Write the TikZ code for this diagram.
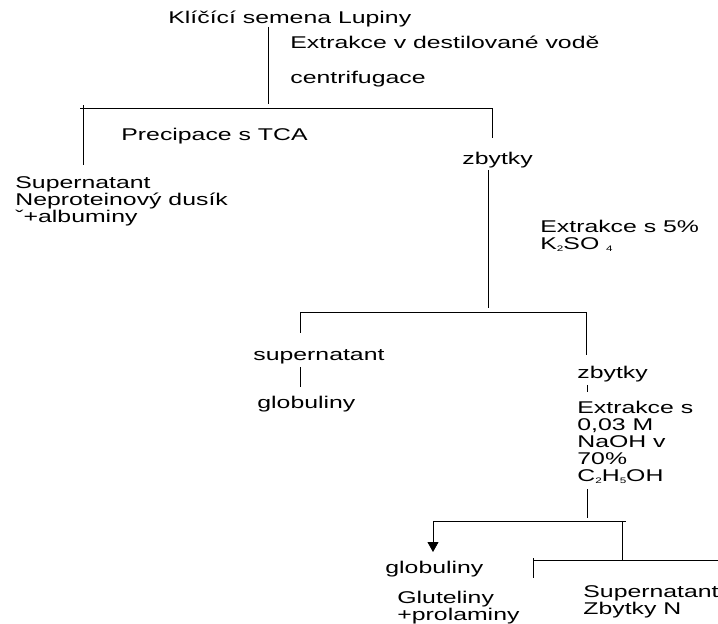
\documentclass[tikz,border=0pt]{standalone}
\usepackage{fontspec}
\setmainfont{Liberation Sans}[FakeStretch=1.46]
\usetikzlibrary{arrows.meta}
\newcommand{\lsub}[1]{\raisebox{-2pt}{\fontsize{8}{8}\selectfont #1}}

\begin{document}
\begin{tikzpicture}[x=1pt, y=-1pt, line width=0.8pt,
    lbl/.style={anchor=base west, inner sep=0pt, align=left, font=\fontsize{17}{16.8}\selectfont}]
    \useasboundingbox (0,0) rectangle (718,624);
    \node[lbl] (seed) at (168,23) {Klíčící semena Lupiny};
    \node[lbl] (extr1) at (290,48) {Extrakce v destilované vodě};
    \node[lbl] (cent) at (290,83) {centrifugace};
    \node[lbl] (tca) at (121,140) {Precipace s TCA};
    \node[lbl] (sup1) at (15,222) {Supernatant\\Neproteinový dusík\\ˇ+albuminy};
    \node[lbl] (zby1) at (462,164) {zbytky};
    \node[lbl] (extr2) at (540,249) {Extrakce s 5\%\\K\lsub{2}SO \lsub{4}};
    \node[lbl] (sup2) at (253,360) {supernatant};
    \node[lbl] (glob1) at (257,408) {globuliny};
    \node[lbl] (zby2) at (577,378) {zbytky};
    \node[lbl] (extr3) at (577,481) {Extrakce s\\0,03 M\\NaOH v\\70\%\\C\lsub{2}H\lsub{5}OH};
    \node[lbl] (glob2) at (385,573) {globuliny};
    \node[lbl] (glut) at (397,620) {Gluteliny\\+prolaminy};
    \node[lbl] (sup3) at (583,614) {Supernatant\\Zbytky N};

    \coordinate (j0) at (268,104);
    \coordinate (b1l) at (80,108);
    \coordinate (b1r) at (492,108);
    \coordinate (t1) at (83,105);
    \coordinate (e1) at (83,165);
    \coordinate (e2) at (492,138);
    \coordinate (j2) at (488,308);
    \coordinate (b2l) at (300,312);
    \coordinate (b2r) at (586,312);
    \coordinate (e3) at (300,333);
    \coordinate (e4) at (300,387);
    \coordinate (e5) at (586,355);
    \coordinate (e6) at (587,392);
    \coordinate (j3) at (587,518);
    \coordinate (b3l) at (433,521);
    \coordinate (b3r) at (626,521);
    \coordinate (e7) at (433,552);
    \coordinate (b4t) at (622,521);
    \coordinate (b4m) at (622,560);
    \coordinate (b4l) at (533,560);
    \coordinate (b4r) at (718,560);
    \coordinate (t8) at (533,558);
    \coordinate (e8) at (533,578);

    \draw (seed.south -| j0) -- (j0);
    \draw (b1l) -- (b1r);
    \draw (t1) -- (e1);
    \draw (b1r) -- (e2);
    \draw[shorten <=2pt] (zby1.south -| j2) -- (j2);
    \draw (b2l) -- (b2r);
    \draw (b2l) -- (e3);
    \draw[shorten <=3pt] (sup2.south -| e4) -- (e4);
    \draw (b2r) -- (e5);
    \draw[shorten <=3pt] (zby2.south -| e6) -- (e6);
    \draw[shorten <=6pt] (extr3.south -| j3) -- (j3);
    \draw (b3l) -- (b3r);
    \draw[-{Triangle[width=11pt,length=10pt]}] (b3l) -- (e7);
    \draw (b4t) -- (b4m);
    \draw (b4l) -- (b4r);
    \draw (t8) -- (e8);
\end{tikzpicture}
\end{document}
